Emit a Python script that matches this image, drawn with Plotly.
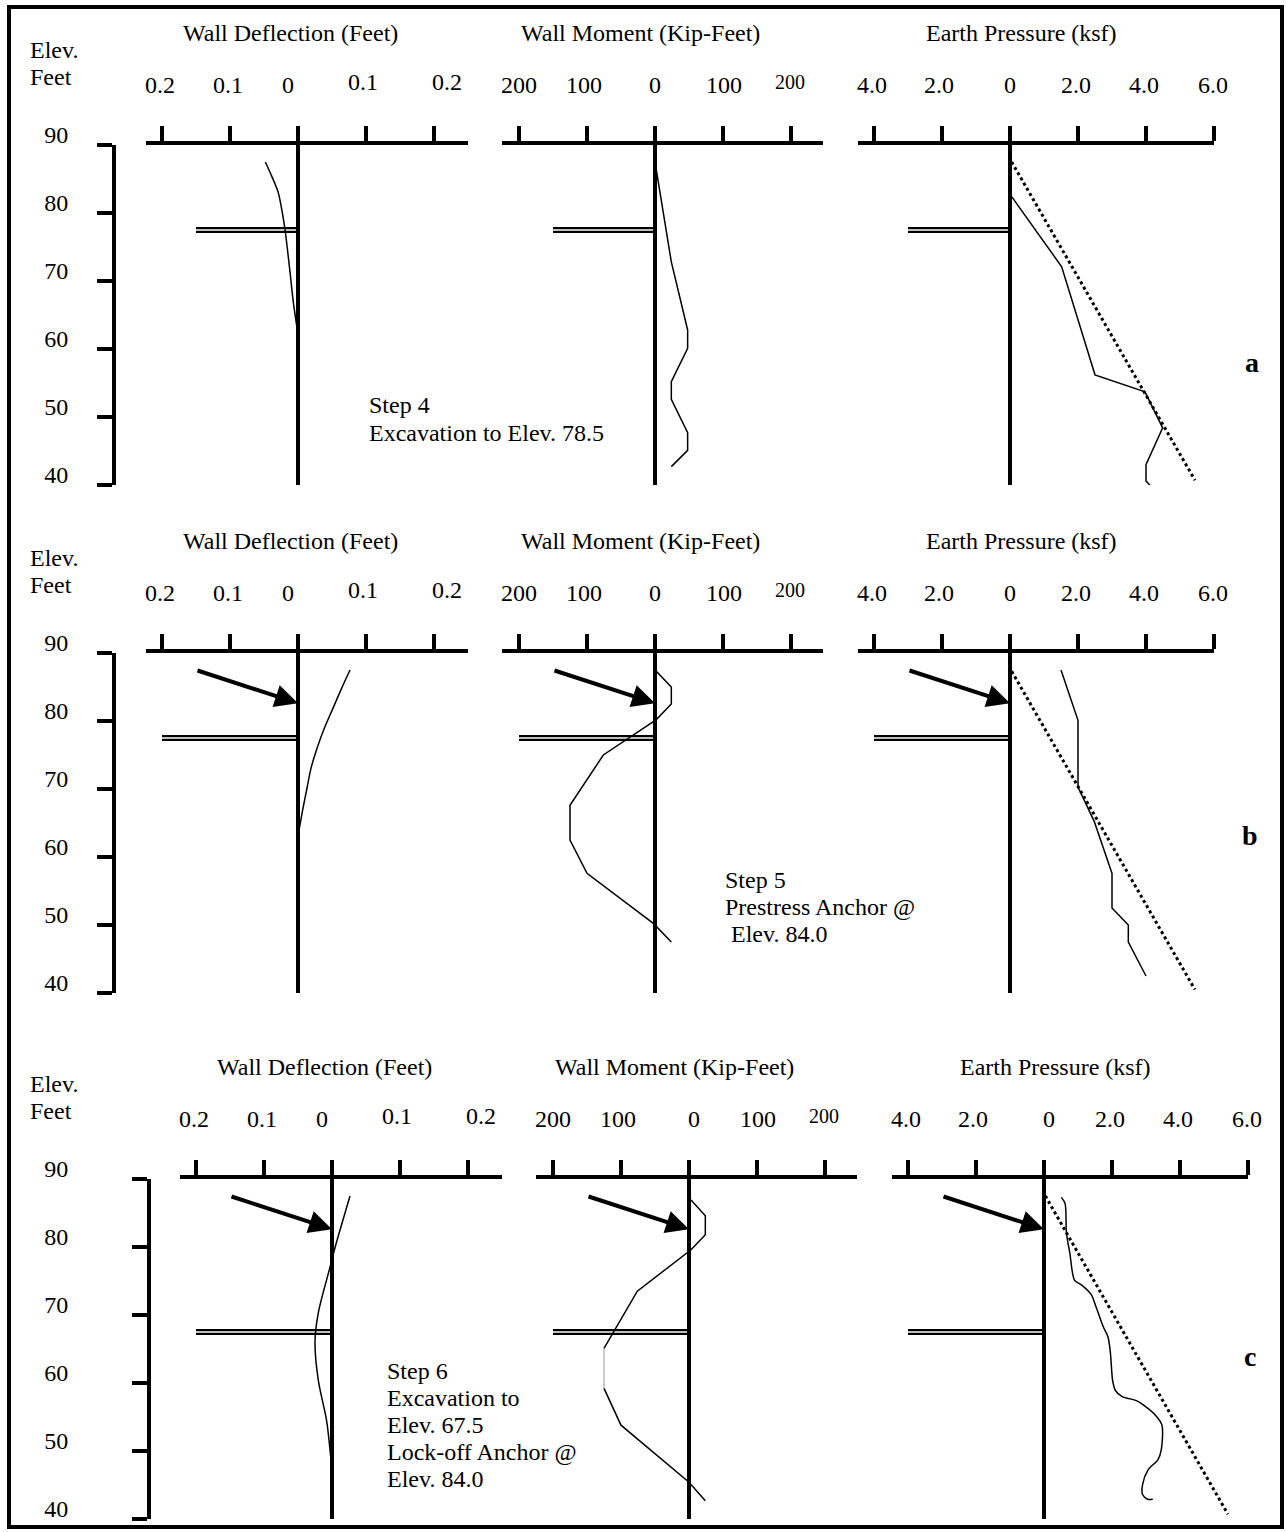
import plotly.graph_objects as go

W, H = 1286, 1532
FONT = "Liberation Serif, Times New Roman, serif"

# ---------------- data ----------------
ELEV_TICKS = [90, 80, 70, 60, 50, 40]
ELEV_LABELS = ["90", "80", "70", "60", "50", "40"]
DEFL_TICKS = [-0.2, -0.1, 0.0, 0.1, 0.2]
DEFL_LABELS = ["0.2", "0.1", "0", "0.1", "0.2"]
MOM_TICKS = [-200, -100, 0, 100, 200]
MOM_LABELS = ["200", "100", "0", "100", "200"]
EP_TICKS = [-4.0, -2.0, 0.0, 2.0, 4.0, 6.0]
EP_LABELS = ["4.0", "2.0", "0", "2.0", "4.0", "6.0"]
PANEL_TITLES = ["Wall Deflection (Feet)", "Wall Moment (Kip-Feet)", "Earth Pressure (ksf)"]
ROW_TAGS = ["a", "b", "c"]
STEP_TEXT = [
    ["Step 4", "Excavation to Elev. 78.5"],
    ["Step 5", "Prestress Anchor @", "\u00a0Elev. 84.0"],
    ["Step 6", "Excavation to", "Elev. 67.5", "Lock-off Anchor @", "Elev. 84.0"],
]

# excavation level (double line) per row, and its extent per panel
EXCAV_ELEV = [77.5, 77.5, 67.5]
EXCAV_FROM = [[-0.15, -150, -3.0], [-0.2, -200, -4.0], [-0.2, -200, -4.0]]
# anchor arrow (rows b, c): tail -> tip at wall
ARROW_TAIL_ELEV = 87.5
ARROW_TIP_ELEV = 82.6
ARROW_TAIL_X = [-0.15, -150, -3.0]

# Step 4 (row a)
A_DEFL_ELEV = [87.5, 85.5, 83.0, 80.0, 77.5, 72.0, 67.0, 62.8]
A_DEFL = [-0.048, -0.039, -0.029, -0.023, -0.019, -0.0125, -0.007, -0.001]
A_MOM_ELEV = [86.3, 72.8, 62.8, 60.1, 55.2, 52.6, 47.7, 45.1, 42.7]
A_MOM = [2, 24, 48, 48, 24, 24, 48, 48, 24]
A_EP_ELEV = [82.4, 72.1, 56.2, 53.7, 48.4, 43.0, 40.6, 38.3]
A_EP = [0.05, 1.52, 2.5, 3.97, 4.49, 4.0, 4.0, 4.42]
A_ACT_ELEV = [87.5, 40.7]
A_ACT = [0.05, 5.44]

# Step 5 (row b)
B_DEFL_ELEV = [87.5, 85.0, 82.0, 79.0, 76.0, 73.0, 70.0, 67.0, 63.7]
B_DEFL = [0.0765, 0.065, 0.052, 0.039, 0.028, 0.019, 0.013, 0.007, 0.001]
B_MOM_ELEV = [87.3, 85.0, 82.5, 80.2, 75.0, 67.6, 62.5, 57.6, 50.2, 47.5]
B_MOM = [2, 24, 24, 2, -76, -125, -125, -100, -2, 24]
B_EP_ELEV = [87.5, 80.1, 70.3, 65.2, 57.6, 52.5, 50.0, 47.5, 42.5]
B_EP = [1.5, 2.0, 2.0, 2.48, 3.0, 3.0, 3.48, 3.48, 4.0]
B_ACT_ELEV = [87.3, 40.5]
B_ACT = [0.05, 5.44]

# Step 6 (row c)
C_DEFL_ELEV = [87.5, 79.9, 77.0, 70.4, 66.1, 60.3, 54.5, 48.7]
C_DEFL = [0.0265, 0.0044, -0.003, -0.02, -0.025, -0.02, -0.008, -0.0015]
C_MOM_ELEV = [86.9, 84.6, 81.8, 79.6, 73.5, 65.1, 59.2, 53.8, 45.4, 42.7]
C_MOM = [3, 24, 24, 3, -76, -125, -125, -100, 0, 24]
C_EP_ELEV = [87.3, 86.4, 82.1, 79.1, 75.1, 74.4, 73.0, 71.2, 68.3, 66.8, 64.6, 60.3,
             58.9, 58.0, 57.4, 56.7, 55.2, 53.8, 50.2, 48.7, 47.3, 45.1, 43.6, 42.9, 42.9]
C_EP = [0.51, 0.62, 0.66, 0.76, 0.9, 1.11, 1.39, 1.53, 1.74, 1.88, 1.95, 2.02,
        2.1, 2.3, 2.72, 2.94, 3.29, 3.47, 3.45, 3.35, 3.07, 2.9, 2.9, 3.05, 3.2]
C_ACT_ELEV = [87.5, 40.7]
C_ACT = [0.04, 5.41]

ROWS = [
    dict(defl=(A_DEFL, A_DEFL_ELEV), mom=(A_MOM, A_MOM_ELEV), ep=(A_EP, A_EP_ELEV),
         act=(A_ACT, A_ACT_ELEV), arrows=False, ep_spline=False),
    dict(defl=(B_DEFL, B_DEFL_ELEV), mom=(B_MOM, B_MOM_ELEV), ep=(B_EP, B_EP_ELEV),
         act=(B_ACT, B_ACT_ELEV), arrows=True, ep_spline=False),
    dict(defl=(C_DEFL, C_DEFL_ELEV), mom=(C_MOM, C_MOM_ELEV), ep=(C_EP, C_EP_ELEV),
         act=(C_ACT, C_ACT_ELEV), arrows=True, ep_spline=True),
]

# ---------------- layout geometry (pixels) ----------------
ROW_TOP = [145, 653, 1179]          # pixel row of elevation 90
ROW_DX = [0, 0, 34]                 # horizontal shift of a row
YAX_X = [112, 112, 147]             # elevation axis line
FT_PX = 6.8
WALL_PX = [298, 655, 1010]
PX_PER_UNIT = [680.0, 0.68, 34.0]
DOM_L = [146, 502, 858]
DOM_R = [468, 823, 1214]
TITLE_DX = [-8, -15, 11]
TICKS = [DEFL_TICKS, MOM_TICKS, EP_TICKS]
LABELS = [DEFL_LABELS, MOM_LABELS, EP_LABELS]
LABEL_NUDGE = [[-2, -2, -10, -3, 13], [0, -3, 0, 1, -1], [-2, -3, 0, -2, -2, -1]]
ZERO_NUDGE_ROW = [0, 0, 5]
LABEL_RAISE = [[0, 0, 0, 3, 3], [0, 0, 0, 0, 3], [0, 0, 0, 0, 0, 0]]
LABEL_SIZE = [[24] * 5, [24, 24, 24, 24, 20], [24] * 6]
STEP_POS = [(367, [405, 433]), (723, [880, 907, 934]), (385, [1371, 1398, 1425, 1452, 1479])]
TAG_POS = [(1252, 362), (1250, 835), (1250, 1356)]
ELEV_TXT_X = [28, 28, 28]


def fx(px):
    return px / W


def fy(py):
    return 1 - py / H


def tfont(size=24):
    return dict(family=FONT, size=size, color="black")


fig = go.Figure()
layout_axes = {}
annotations = []

for r in range(3):
    yid = "y" if r == 0 else f"y{r + 1}"
    ykey = "yaxis" if r == 0 else f"yaxis{r + 1}"
    top = ROW_TOP[r]
    dx = ROW_DX[r]
    layout_axes[ykey] = dict(
        domain=[fy(top + 50 * FT_PX), fy(top)], range=[40, 90],
        anchor="free", position=(YAX_X[r] + 2) / W, side="left",
        showline=True, linecolor="black", linewidth=4,
        ticks="outside", ticklen=15, tickwidth=4, tickcolor="black",
        tickvals=ELEV_TICKS, ticktext=ELEV_LABELS, tickfont=tfont(24),
        ticklabelstandoff=24 + (YAX_X[r] - 112), ticklabelshift=-10,
        ticklabeloverflow="allow",
        showgrid=False, zeroline=False, fixedrange=True, automargin=False,
    )
    # Elev. / Feet
    annotations.append(dict(x=fx(ELEV_TXT_X[r]), y=fy(top - 95), xref="paper", yref="paper",
                            text="Elev.", showarrow=False, xanchor="left", yanchor="middle",
                            font=tfont(24)))
    annotations.append(dict(x=fx(ELEV_TXT_X[r]), y=fy(top - 68), xref="paper", yref="paper",
                            text="Feet", showarrow=False, xanchor="left", yanchor="middle",
                            font=tfont(24)))

    row = ROWS[r]
    series = [row["defl"], row["mom"], row["ep"]]
    for p in range(3):
        n = r * 3 + p + 1
        xid = "x" if n == 1 else f"x{n}"
        xkey = "xaxis" if n == 1 else f"xaxis{n}"
        ppu = PX_PER_UNIT[p]
        wall = WALL_PX[p] + dx
        left, right = DOM_L[p] + dx, DOM_R[p] + dx
        layout_axes[xkey] = dict(
            domain=[fx(left), fx(right)],
            range=[(left - wall) / ppu, (right - wall) / ppu],
            anchor=yid, side="top",
            showline=True, linecolor="black", linewidth=4,
            ticks="outside", ticklen=15, tickwidth=4, tickcolor="black",
            tickvals=TICKS[p], showticklabels=False,
            showgrid=False, zeroline=False, fixedrange=True, automargin=False,
        )
        # title
        annotations.append(dict(x=fx(wall + TITLE_DX[p]), y=fy(top - 112), xref="paper", yref="paper",
                                text=PANEL_TITLES[p], showarrow=False, xanchor="center",
                                yanchor="middle", font=tfont(24)))
        # tick labels
        for i, (tv, tl) in enumerate(zip(TICKS[p], LABELS[p])):
            nudge = LABEL_NUDGE[p][i]
            if tv == 0 and p > 0:
                nudge += ZERO_NUDGE_ROW[r]
            annotations.append(dict(x=tv, xref=xid, y=fy(top - 60 - LABEL_RAISE[p][i]), yref="paper",
                                    text=tl, showarrow=False, xanchor="center", yanchor="middle",
                                    xshift=nudge, font=tfont(LABEL_SIZE[p][i])))

        # excavation level double line
        ex = [EXCAV_FROM[r][p], 0]
        ey = [EXCAV_ELEV[r], EXCAV_ELEV[r]]
        fig.add_trace(go.Scatter(x=ex, y=ey, mode="lines", line=dict(color="black", width=6),
                                 xaxis=xid, yaxis=yid, hoverinfo="skip", showlegend=False))
        fig.add_trace(go.Scatter(x=ex, y=ey, mode="lines", line=dict(color="white", width=1.6),
                                 xaxis=xid, yaxis=yid, hoverinfo="skip", showlegend=False))
        # wall
        fig.add_trace(go.Scatter(x=[0, 0], y=[40, 90], mode="lines", line=dict(color="black", width=4),
                                 xaxis=xid, yaxis=yid, hoverinfo="skip", showlegend=False))
        # active pressure (dotted)
        if p == 2:
            ax_, ay_ = row["act"]
            fig.add_trace(go.Scatter(x=ax_, y=ay_, mode="lines",
                                     line=dict(color="black", width=3, dash="dot"),
                                     xaxis=xid, yaxis=yid, hoverinfo="skip", showlegend=False))
        # result curve
        vx, vy = series[p]
        smooth = (p == 0) or (p == 2 and row["ep_spline"])
        if r == 2 and p == 1:
            # middle vertical segment drawn fainter
            fig.add_trace(go.Scatter(x=vx[:6], y=vy[:6], mode="lines", line=dict(color="black", width=1.5),
                                     xaxis=xid, yaxis=yid, hoverinfo="skip", showlegend=False))
            fig.add_trace(go.Scatter(x=vx[5:7], y=vy[5:7], mode="lines", line=dict(color="#999999", width=1),
                                     xaxis=xid, yaxis=yid, hoverinfo="skip", showlegend=False))
            fig.add_trace(go.Scatter(x=vx[6:], y=vy[6:], mode="lines", line=dict(color="black", width=1.5),
                                     xaxis=xid, yaxis=yid, hoverinfo="skip", showlegend=False))
        else:
            fig.add_trace(go.Scatter(x=vx, y=vy, mode="lines", cliponaxis=False,
                                     line=dict(color="black", width=1.5,
                                               shape="spline" if smooth else "linear",
                                               smoothing=0.8 if smooth else None),
                                     xaxis=xid, yaxis=yid, hoverinfo="skip", showlegend=False))
        # anchor arrows
        if row["arrows"]:
            annotations.append(dict(x=0, y=ARROW_TIP_ELEV, xref=xid, yref=yid,
                                    ax=ARROW_TAIL_X[p], ay=ARROW_TAIL_ELEV, axref=xid, ayref=yid,
                                    text="", showarrow=True, arrowhead=2, arrowsize=1.15,
                                    arrowwidth=4, arrowcolor="black", standoff=0))

    # step text
    sx, sys_ = STEP_POS[r]
    for line_txt, ly in zip(STEP_TEXT[r], sys_):
        annotations.append(dict(x=fx(sx), y=fy(ly), xref="paper", yref="paper", text=line_txt,
                                showarrow=False, xanchor="left", yanchor="middle", font=tfont(24)))
    # row tag
    tx, ty = TAG_POS[r]
    annotations.append(dict(x=fx(tx), y=fy(ty), xref="paper", yref="paper",
                            text=f"<b>{ROW_TAGS[r]}</b>", showarrow=False, xanchor="center",
                            yanchor="middle", font=tfont(28)))

shapes = [dict(type="rect", xref="paper", yref="paper", x0=fx(9), x1=fx(1282), y0=fy(7), y1=fy(1527),
               line=dict(color="black", width=4), fillcolor="rgba(0,0,0,0)")]

fig.update_layout(
    template="none",
    width=W, height=H, margin=dict(l=0, r=0, t=0, b=0, pad=0), autosize=False,
    paper_bgcolor="white", plot_bgcolor="rgba(0,0,0,0)",
    showlegend=False, annotations=annotations, shapes=shapes,
    font=dict(family=FONT, color="black"),
    **layout_axes,
)

fig.write_html("out.html", config={"displayModeBar": False})
